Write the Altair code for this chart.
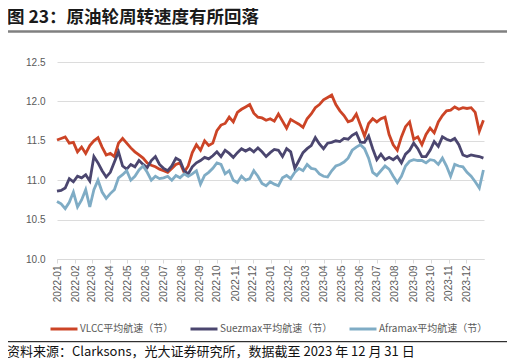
import altair as alt
import pandas as pd

# ---------------- data (weekly readings, first week starting 2022-01-01) ----------------
start_date = "2022-01-01"
vlcc = [11.51, 11.53, 11.55, 11.47, 11.48, 11.36, 11.42, 11.34, 11.44, 11.50, 11.54, 11.42, 11.32, 11.34,
        11.30, 11.47, 11.53, 11.47, 11.41, 11.36, 11.32, 11.28, 11.22, 11.19, 11.17, 11.14, 11.12,
        11.10, 11.15, 11.20, 11.22, 11.10, 11.18, 11.35, 11.45, 11.38, 11.50, 11.44, 11.47, 11.63, 11.70,
        11.72, 11.80, 11.74, 11.86, 11.90, 11.93, 11.96, 11.85, 11.80, 11.79, 11.76, 11.78, 11.75,
        11.84, 11.75, 11.66, 11.77, 11.74, 11.71, 11.67, 11.78, 11.84, 11.92, 11.96, 12.02, 12.05, 12.08,
        11.96, 11.88, 11.82, 11.74, 11.76, 11.84, 11.70, 11.56, 11.72, 11.78, 11.74, 11.78, 11.80, 11.58,
        11.45, 11.38, 11.55, 11.68, 11.74, 11.52, 11.55, 11.45, 11.58, 11.66, 11.60, 11.74, 11.82, 11.88,
        11.89, 11.93, 11.90, 11.92, 11.91, 11.92, 11.86, 11.62, 11.76]
suezmax = [10.86, 10.87, 10.90, 11.02, 10.98, 11.05, 11.03, 11.07, 10.99, 11.30, 11.22, 11.12, 11.04, 11.10,
           11.23, 11.36, 11.18, 11.14, 11.20, 11.17, 11.25, 11.20, 11.16, 11.25, 11.30, 11.20, 11.15,
           11.12, 11.18, 11.28, 11.25, 11.12, 11.08, 11.17, 11.22, 11.25, 11.29, 11.27, 11.31, 11.36, 11.30,
           11.38, 11.34, 11.29, 11.35, 11.40, 11.37, 11.40, 11.36, 11.41, 11.36, 11.30, 11.35, 11.39,
           11.38, 11.30, 11.40, 11.36, 11.15, 11.25, 11.35, 11.40, 11.44, 11.54, 11.46, 11.40, 11.47, 11.48,
           11.50, 11.49, 11.53, 11.52, 11.57, 11.60, 11.48, 11.48, 11.56, 11.40, 11.26, 11.33, 11.26, 11.29,
           11.26, 11.30, 11.22, 11.33, 11.38, 11.47, 11.40, 11.30, 11.30, 11.38, 11.49, 11.43, 11.55, 11.52,
           11.50, 11.53, 11.45, 11.32, 11.30, 11.32, 11.31, 11.30, 11.28]
aframax = [10.73, 10.70, 10.64, 10.72, 10.85, 10.66, 10.75, 10.88, 10.66, 10.88, 11.00, 10.85, 10.77, 10.83,
           10.88, 11.03, 11.07, 11.12, 11.00, 11.05, 11.13, 11.18, 11.10, 11.00, 11.05, 11.02, 11.03,
           11.05, 11.00, 11.06, 11.03, 11.08, 11.05, 11.08, 11.12, 10.95, 11.06, 11.10, 11.15, 11.22, 11.20,
           11.08, 11.12, 11.00, 10.97, 11.05, 11.00, 11.02, 11.12, 11.05, 10.96, 10.93, 10.98, 10.95,
           10.93, 11.03, 11.06, 11.02, 11.10, 11.15, 11.12, 11.20, 11.15, 11.14, 11.08, 11.05, 11.04, 11.12,
           11.18, 11.20, 11.23, 11.28, 11.38, 11.42, 11.45, 11.40, 11.28, 11.10, 11.06, 11.12, 11.18, 11.14,
           11.05, 10.97, 11.05, 11.18, 11.24, 11.26, 11.25, 11.25, 11.22, 11.26, 11.25, 11.20, 11.28, 11.18,
           11.05, 11.20, 11.18, 11.17, 11.10, 11.05, 10.98, 10.90, 11.13]

series_names = ["VLCC平均航速（节）", "Suezmax平均航速（节）", "Aframax平均航速（节）"]
series_colors = ["#CC4426", "#4B466F", "#7FACC5"]
month_ticks = ["2022-01", "2022-02", "2022-03", "2022-04", "2022-05", "2022-06", "2022-07", "2022-08",
               "2022-09", "2022-10", "2022-11", "2022-12", "2023-01", "2023-02", "2023-03", "2023-04",
               "2023-05", "2023-06", "2023-07", "2023-08", "2023-09", "2023-10", "2023-11", "2023-12"]
y_ticks = [10.0, 10.5, 11.0, 11.5, 12.0, 12.5]
title_text = "图 23：原油轮周转速度有所回落"
source_text = "资料来源：Clarksons，光大证券研究所，数据截至 2023 年 12 月 31 日"

dates = pd.date_range(start_date, periods=len(vlcc), freq="7D").strftime("%Y-%m-%d")
frames = []
for name, vals in zip(series_names, [vlcc, suezmax, aframax]):
    frames.append(pd.DataFrame({"date": dates, "value": vals, "series": name}))
df = pd.concat(frames, ignore_index=True)

W, H = 427, 197
FONT_LATIN = "Liberation Sans, Noto Sans CJK SC, sans-serif"
FONT_CJK = "Noto Sans CJK SC, sans-serif"

tick_values = [alt.DateTime(year=int(m[:4]), month=int(m[5:]), date=1, utc=True) for m in month_ticks]

lines = alt.Chart(df).mark_line(strokeWidth=2.8, interpolate="linear").encode(
    x=alt.X("date:T",
            scale=alt.Scale(type="utc",
                            domain=[alt.DateTime(year=2022, month=1, date=1, utc=True),
                                    alt.DateTime(year=2023, month=12, date=31, utc=True)]),
            axis=alt.Axis(values=tick_values, labelExpr="utcFormat(datum.value, '%Y-%m')",
                          labelAngle=270, labelFontSize=10, labelColor="#595959", labelFont=FONT_LATIN,
                          labelPadding=2, grid=False, domain=True, domainColor="#d9d9d9",
                          ticks=True, tickColor="#d9d9d9", tickSize=4, labelOverlap=False),
            title=None),
    y=alt.Y("value:Q",
            scale=alt.Scale(domain=[10, 12.5], nice=False, zero=False),
            axis=alt.Axis(values=y_ticks, format=".1f", labelFontSize=10, labelColor="#595959",
                          labelFont=FONT_LATIN, labelPadding=12, grid=True, gridColor="#dcdcdc",
                          gridWidth=1, domain=False, ticks=False),
            title=None),
    color=alt.Color("series:N", sort=series_names,
                    scale=alt.Scale(domain=series_names, range=series_colors),
                    legend=alt.Legend(title=None, orient="none", legendX=-8, legendY=252,
                                      direction="horizontal", symbolType="stroke", symbolSize=729,
                                      symbolStrokeWidth=3, labelFontSize=10, labelColor="#595959",
                                      labelFont=FONT_CJK, labelOffset=1, columnPadding=10,
                                      labelLimit=300)),
)

one = pd.DataFrame({"k": [0]})

title = alt.Chart(one).mark_text(align="left", baseline="alphabetic", fontSize=17.5, fontWeight="bold",
                                 font=FONT_CJK, color="#1a1a1a").encode(
    x=alt.value(-50), y=alt.value(-39.5), text=alt.value(title_text))

title_rule = alt.Chart(one).mark_rule(color="#808080", strokeWidth=2.5).encode(
    x=alt.value(-51), x2=alt.value(450), y=alt.value(-30.5))

source_rule = alt.Chart(one).mark_rule(color="#000000", strokeWidth=1).encode(
    x=alt.value(-52), x2=alt.value(450), y=alt.value(279.7))

source = alt.Chart(one).mark_text(align="left", baseline="middle", fontSize=13,
                                  font=FONT_CJK, color="#111111").encode(
    x=alt.value(-50), y=alt.value(289.5), text=alt.value(source_text))

chart = alt.layer(lines, title, title_rule, source_rule, source).properties(
    width=W, height=H,
    autosize=alt.AutoSizeParams(type="none"),
    padding={"left": 49, "top": 54, "right": 24, "bottom": 100},
).configure_view(stroke=None)

chart.save("out.html", embed_options={"renderer": "svg", "actions": False})
